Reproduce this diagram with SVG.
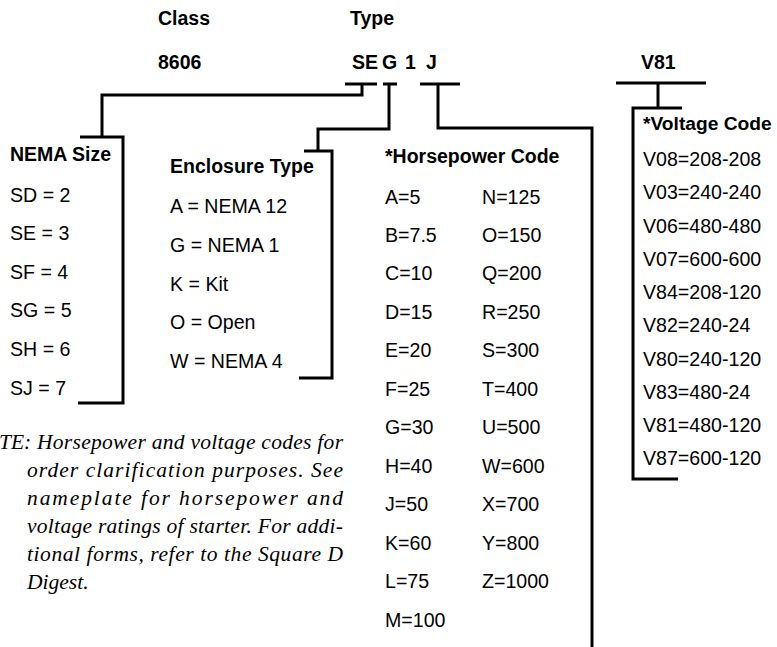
<svg xmlns="http://www.w3.org/2000/svg" width="777" height="647" viewBox="0 0 777 647">
<style>
.b{font-family:"Liberation Sans",Arial,sans-serif;font-size:19.5px;font-weight:bold;fill:#000}
.r{font-family:"Liberation Sans",Arial,sans-serif;font-size:19.6px;fill:#000}
.n{font-family:"Liberation Serif","Times New Roman",serif;font-size:21.5px;font-style:italic;fill:#000}
.ln{fill:none;stroke:#000;stroke-width:3;stroke-linecap:butt;stroke-linejoin:miter}
</style>
<rect width="777" height="647" fill="#fff"/>
<g id="header">
<text class="b" x="158" y="25">Class</text>
<text class="b" x="350" y="25">Type</text>
<text class="b" x="158" y="68.5">8606</text>
<text class="b" x="352" y="68.5">SE</text>
<text class="b" x="382" y="68.5">G</text>
<text class="b" x="405" y="68.5">1</text>
<text class="b" x="426" y="68.5">J</text>
<text class="b" x="641" y="68.5">V81</text>
</g>
<g id="connectors">
<path class="ln" d="M345,84 H377 M362,84 V95 H102 V137 M80,137 H123 V403 H78"/>
<path class="ln" d="M383,84 H397 M389,84 V129 H318 V151 M304,151 H332 V378 H299"/>
<path class="ln" d="M420,84 H460 M438,84 V128 H592 V647"/>
<path class="ln" d="M616,83 H706 M658,83 V108 M682,108 H633 V479 H678"/>
</g>
<g id="nema-size">
<text class="b" x="10" y="161">NEMA Size</text>
<text class="r" x="10" y="201.5">SD = 2</text>
<text class="r" x="10" y="240.1">SE = 3</text>
<text class="r" x="10" y="278.7">SF = 4</text>
<text class="r" x="10" y="317.3">SG = 5</text>
<text class="r" x="10" y="355.9">SH = 6</text>
<text class="r" x="10" y="394.5">SJ = 7</text>
</g>
<g id="enclosure-type">
<text class="b" x="170" y="173">Enclosure Type</text>
<text class="r" x="170" y="213">A = NEMA 12</text>
<text class="r" x="170" y="251.8">G = NEMA 1</text>
<text class="r" x="170" y="290.5">K = Kit</text>
<text class="r" x="170" y="329.3">O = Open</text>
<text class="r" x="170" y="368">W = NEMA 4</text>
</g>
<g id="horsepower-code">
<text class="b" x="385" y="162.5">*Horsepower Code</text>
<text class="r" x="385" y="203.5">A=5</text><text class="r" x="482" y="203.5">N=125</text>
<text class="r" x="385" y="242">B=7.5</text><text class="r" x="482" y="242">O=150</text>
<text class="r" x="385" y="280.4">C=10</text><text class="r" x="482" y="280.4">Q=200</text>
<text class="r" x="385" y="318.9">D=15</text><text class="r" x="482" y="318.9">R=250</text>
<text class="r" x="385" y="357.3">E=20</text><text class="r" x="482" y="357.3">S=300</text>
<text class="r" x="385" y="395.8">F=25</text><text class="r" x="482" y="395.8">T=400</text>
<text class="r" x="385" y="434.2">G=30</text><text class="r" x="482" y="434.2">U=500</text>
<text class="r" x="385" y="472.7">H=40</text><text class="r" x="482" y="472.7">W=600</text>
<text class="r" x="385" y="511.1">J=50</text><text class="r" x="482" y="511.1">X=700</text>
<text class="r" x="385" y="549.6">K=60</text><text class="r" x="482" y="549.6">Y=800</text>
<text class="r" x="385" y="588">L=75</text><text class="r" x="482" y="588">Z=1000</text>
<text class="r" x="385" y="626.5">M=100</text>
</g>
<g id="voltage-code">
<text class="b" x="643" y="130" style="font-size:19.2px">*Voltage Code</text>
<text class="r" x="643" y="166">V08=208-208</text>
<text class="r" x="643" y="199.3">V03=240-240</text>
<text class="r" x="643" y="232.5">V06=480-480</text>
<text class="r" x="643" y="265.8">V07=600-600</text>
<text class="r" x="643" y="299">V84=208-120</text>
<text class="r" x="643" y="332.3">V82=240-24</text>
<text class="r" x="643" y="365.5">V80=240-120</text>
<text class="r" x="643" y="398.8">V83=480-24</text>
<text class="r" x="643" y="432">V81=480-120</text>
<text class="r" x="643" y="465.3">V87=600-120</text>
</g>
<g id="note">
<text class="n" x="-1" y="449">TE:</text>
<text class="n" x="37" y="449" textLength="306" lengthAdjust="spacing">Horsepower and voltage codes for</text>
<text class="n" x="27" y="477" textLength="316" lengthAdjust="spacing">order clarification purposes. See</text>
<text class="n" x="27" y="505" textLength="316" lengthAdjust="spacing">nameplate for horsepower and</text>
<text class="n" x="27" y="533" textLength="316" lengthAdjust="spacing">voltage ratings of starter. For addi-</text>
<text class="n" x="27" y="561" textLength="316" lengthAdjust="spacing">tional forms, refer to the Square D</text>
<text class="n" x="27" y="589">Digest.</text>
</g>
</svg>
